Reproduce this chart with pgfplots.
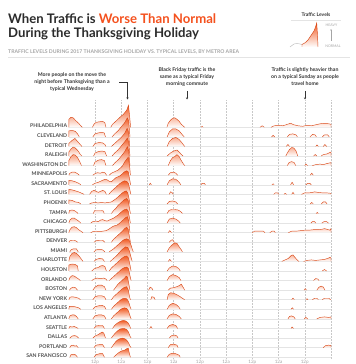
\documentclass[border=0pt]{standalone}
\usepackage{pgfplots}
\pgfplotsset{compat=1.18}
\usetikzlibrary{arrows.meta}
\usepackage{fontspec}
\setmainfont{Lato}
\definecolor{ttl}{HTML}{2B2B2B}
\definecolor{hot}{HTML}{F4511E}
\definecolor{ridgetop}{HTML}{F15A22}
\definecolor{ridgeline}{HTML}{D94A1A}
\definecolor{lbl}{HTML}{505050}
\definecolor{sub}{HTML}{A5A5A5}
\definecolor{basel}{HTML}{E4E4E4}
\definecolor{vgrid}{HTML}{C8C8C8}
\definecolor{ann}{HTML}{333333}
\pgfplotsset{
  ridge/.style={draw=ridgeline, line width=0.45pt, top color=ridgetop, bottom color=white, mark=none, unbounded coords=jump, y filter/.expression={y+#1}},
}
\begin{document}
\begin{tikzpicture}
% ---------- titles ----------
\node[anchor=base west, inner sep=0pt, text=ttl, font=\bfseries\fontsize{13.2}{15}\selectfont] at (8bp,340bp) {When Traffic is \textcolor{hot}{Worse Than Normal}};
\node[anchor=base west, inner sep=0pt, text=ttl, font=\bfseries\fontsize{13.2}{15}\selectfont] at (8bp,326bp) {During the Thanksgiving Holiday};
\node[anchor=base west, inner sep=0pt, text=sub, font=\bfseries\fontsize{5.15}{6}\selectfont] at (8bp,310bp) {TRAFFIC LEVELS DURING 2017 THANKSGIVING HOLIDAY VS. TYPICAL LEVELS, BY METRO AREA};
\draw[basel, line width=1.2bp] (8bp,306.5bp) -- (350bp,306.5bp);
% ---------- legend ----------
\node[inner sep=0pt, text=ann, font=\bfseries\fontsize{5}{6}\selectfont] at (316bp,349bp) {Traffic Levels};
\draw[basel, line width=0.6bp] (291bp,344bp) -- (341bp,344bp);
\node[inner sep=0pt, text=sub, font=\fontsize{3.6}{4}\selectfont] at (331.5bp,339bp) {HEAVY};
\draw[sub, line width=0.4bp, -{Stealth[length=1.6bp,width=1.6bp]}] (331bp,323bp) -- (331bp,335bp);
\node[inner sep=0pt, text=sub, font=\fontsize{3.6}{4}\selectfont] at (333bp,318bp) {NORMAL};
\begin{axis}[at={(289bp,317bp)}, anchor=south west, scale only axis, width=30bp, height=25bp,
  xmin=289, xmax=319, ymin=0, ymax=25, hide axis, clip=false]
\addplot[gray!60, line width=0.4pt, mark=none] coordinates {(290,0)(292,1.5)(294,3)(297,3.5)(300,3)(302,2.5)(303,3)};
\addplot[draw=ridgeline, line width=0.45pt, top color=ridgetop, bottom color=white, mark=none] coordinates {(302,0)(302,2.5)(304,3.5)(306,5)(308,7)(310,10)(312,13)(314,16)(315.5,20)(316.7,24)(317.5,12)(318,0)};
\end{axis}
% ---------- annotations ----------
\node[inner sep=0pt, align=center, text=ann, font=\bfseries\fontsize{5.2}{7}\selectfont] at (72bp,282bp) {More people on the move the\\night before Thanksgiving than a\\typical Wednesday};
\draw[ann, line width=0.4bp, -{Stealth[length=2bp,width=2bp]}] (119bp,282bp) -- (127.5bp,282bp) -- (127.5bp,264.5bp);
\node[inner sep=0pt, align=center, text=ann, font=\bfseries\fontsize{5.2}{7}\selectfont] at (187bp,287bp) {Black Friday traffic is the\\same as a typical Friday\\morning commute};
\draw[ann, line width=0.4bp, -{Stealth[length=2bp,width=2bp]}] (187bp,273bp) -- (187bp,264.5bp);
\node[inner sep=0pt, align=center, text=ann, font=\bfseries\fontsize{5.2}{7}\selectfont] at (305bp,287bp) {Traffic is slightly heavier than\\on a typical Sunday as people\\travel home};
\draw[ann, line width=0.4bp, -{Stealth[length=2bp,width=2bp]}] (305bp,273bp) -- (305bp,264.5bp);
% ---------- main ridgeline axis ----------
\begin{axis}[
  at={(68.8bp,5bp)}, anchor=south west,
  scale only axis, width=262.2bp, height=259bp,
  xmin=0, xmax=120, ymin=5, ymax=264,
  clip=false,
  axis line style={draw=none},
  major tick length=0pt,
  xtick={12,24,36,48,60,72,84,96,108,120},
  xticklabels={12p,12a,12p,12a,12p,12a,12p,12a,12p,},
  xmajorgrids,
  x grid style={vgrid, dash pattern=on 1.5bp off 1.5bp, line width=0.4pt},
  ytick={6.78,16.36,25.94,35.52,45.1,54.68,64.26,73.84,83.42,93,102.58,112.16,121.74,131.32,140.9,150.48,160.06,169.64,179.22,188.8,198.38,207.96,217.54,227.12,236.7},
  yticklabels={SAN FRANCISCO,PORTLAND,DALLAS,SEATTLE,ATLANTA,LOS ANGELES,NEW YORK,BOSTON,ORLANDO,HOUSTON,CHARLOTTE,MIAMI,DENVER,PITTSBURGH,CHICAGO,TAMPA,PHOENIX,ST. LOUIS,SACRAMENTO,MINNEAPOLIS,WASHINGTON DC,RALEIGH,DETROIT,CLEVELAND,PHILADELPHIA},
  ymajorgrids,
  y grid style={basel, line width=0.5pt},
  xticklabel style={font=\fontsize{4.6}{5}\selectfont, text=sub, inner sep=0pt, yshift=-1.2bp},
  yticklabel style={font=\bfseries\fontsize{5.2}{6}\selectfont, text=lbl, inner sep=0pt, xshift=-1.5bp, yshift=1.3bp},
]
% 0 PHILADELPHIA
\addplot[ridge=236.7] coordinates {(0,0)(0,8)(1,10)(2,9.5)(3,7)(4.5,4)(5.5,1.5)(6.2,0)(6.3,nan)
(10.8,0)(11.5,3)(12.5,5)(14,5.5)(15.5,6)(16.5,4.5)(17,0)(17.1,nan)
(19.2,0)(20,3)(21.5,6)(23.4,10)(25,13)(26.5,17)(27.3,22)(27.8,12)(28.3,0)(28.4,nan)
(44.9,0)(45.5,4)(46.5,7)(47.5,9)(48.5,9.5)(49.5,8)(50.5,6)(51.5,3)(52.5,1)(53,0)(53.1,nan)
(60.5,0)(61,1)(61.5,0)(61.6,nan)
(87.5,0)(88.5,1.5)(89.5,0)(89.6,nan)
(92.5,0)(94,1.5)(96,2)(98,1.5)(100,3)(101.5,4)(103,2.5)(105,1.5)(107,1)(109,2)(111,1.5)(113,2.5)(115,3.5)(117,4)(119,3.5)(120,3)(120,0)};
% 1 CLEVELAND
\addplot[ridge=227.12] coordinates {(0,0)(0,6)(1.5,6.5)(3,5.5)(4,3)(4.8,0)(4.9,nan)
(11,0)(12,3)(13.5,4)(15,4.5)(16.2,4)(16.8,0)(16.9,nan)
(19.8,0)(21,3)(22.5,6)(24,10)(25.5,14)(26.8,19)(27.4,16)(28,0)(28.1,nan)
(45,0)(46,5)(47.5,8)(49,8)(50.5,6)(52,2)(52.8,0)(52.9,nan)
(92.8,0)(93.5,1.5)(94.2,0)(94.3,nan)
(100,0)(101,2.5)(102.5,3)(104,2)(104.6,0)(104.7,nan)
(110.4,0)(111.5,2.5)(112.7,2)(113.3,0)(113.4,nan)
(116,0)(117,2)(118.5,2)(119.2,0)};
% 2 DETROIT
\addplot[ridge=217.54] coordinates {(0,0)(0,3)(1.5,6)(2.8,8)(4,5)(5.2,2)(6,0)(6.1,nan)
(11,0)(12,3)(14,4)(15.5,3.5)(16.5,2)(17,0)(17.1,nan)
(19.5,0)(21,3)(22.5,6)(24,9)(25.5,13)(26.7,18)(27.3,15)(27.9,0)(28,nan)
(45,0)(46,5)(47.5,8)(49,9)(50.5,7)(52,3)(53,0)(53.1,nan)
(99.5,0)(100.3,2)(101,0)(101.1,nan)
(113,0)(113.6,1.5)(114.2,0)(114.3,nan)
(116.5,0)(117.2,2)(118,0)};
% 3 RALEIGH
\addplot[ridge=207.96] coordinates {(0,0)(0,4)(1,7)(2,9)(3,8)(4.3,5)(5.3,1.5)(6,0)(6.1,nan)
(11.3,0)(12,3)(13.5,4.5)(15,5)(16.5,4.5)(17.3,0)(17.4,nan)
(19.8,0)(21,3)(22.5,6)(24,10)(25.5,14)(26.8,18)(27.4,14)(28,0)(28.1,nan)
(45,0)(46.5,3)(48,5)(49.5,6)(50.5,4)(51.5,1.5)(52.3,0)(52.4,nan)
(99.3,0)(100,3)(101,6.5)(102,8.5)(103,8)(104,5)(104.8,0)(104.9,nan)
(112,0)(112.8,1.5)(113.5,0)(113.6,nan)
(115.5,0)(116.5,1.5)(118,2)(119,3)(120,4)(120,0)};
% 4 WASHINGTON DC
\addplot[ridge=198.38] coordinates {(0,0)(0,5)(1,9)(2,11)(3,10.5)(4,8)(5,4)(5.8,0)(5.9,nan)
(11.3,0)(12,3.5)(13.5,5.5)(15,6)(16.3,5)(17,0)(17.1,nan)
(20,0)(21.2,3)(22.7,6)(24.2,10)(25.6,14)(26.8,19)(27.4,15)(28,0)(28.1,nan)
(45.5,0)(46.5,5)(47.5,8)(48.5,9)(49.5,11)(50.5,9)(51.5,5)(52.5,1.5)(53,0)(53.1,nan)
(100,0)(100.8,3)(102,4)(103.2,3)(103.8,0)(103.9,nan)
(108,0)(108.6,1.5)(109.2,0)(109.3,nan)
(111.5,0)(113,1)(115,1.5)(116.5,1)(118,2)(119,2.5)(120,3)(120,0)};
% 5 MINNEAPOLIS
\addplot[ridge=188.8] coordinates {(0,0)(0.5,2)(1.5,3)(2.8,3)(4,1.5)(4.8,0)(4.9,nan)
(11,0)(12,1.5)(13,2.5)(14.5,2)(15.5,3)(16.5,2.5)(17.3,0)(17.4,nan)
(18.5,0)(19.5,2)(21,3.5)(22.5,5)(23.5,7)(24.5,9)(25.5,13)(26.5,16)(27.2,18)(27.8,10)(28.2,0)(28.3,nan)
(45.5,0)(46.5,2.5)(48,3)(49,2)(49.8,0)(49.9,nan)
(110.5,0)(111.2,2)(111.9,0)};
% 6 SACRAMENTO
\addplot[ridge=179.22] coordinates {(0,0)(0,4.5)(1.5,4)(3,3)(4.5,1.5)(5.5,0)(5.6,nan)
(10.8,0)(12,1.5)(13.5,2.5)(15,4)(16.5,5.5)(17.5,5)(18.5,3.5)(19.5,3)(20.5,5)(21.5,7)(22.5,8)(23.5,9)(24.5,11)(25.5,13)(26.5,14)(27.2,13)(27.8,6)(28.3,0)(28.4,nan)
(36.8,0)(37.3,1.5)(37.8,0)(37.9,nan)
(45,0)(46,4)(47.5,6)(49,5.5)(50.3,3)(51.3,0)(51.4,nan)
(60.5,0)(61,1.5)(62,1.5)(62.5,0)(62.6,nan)
(93,0)(93.5,1)(94,0)(94.1,nan)
(101.5,0)(102.2,2.5)(102.9,0)(103,nan)
(108.5,0)(109.3,1.5)(110.3,1.5)(111,0)};
% 7 ST. LOUIS
\addplot[ridge=169.64] coordinates {(0,0)(0,5)(1.5,4.5)(3,3.5)(4.5,2.5)(6,1)(7,0)(7.1,nan)
(9.5,0)(10.5,3)(11.5,4)(12.5,3)(13.5,2)(14.5,3)(15.5,4)(16.5,3)(17.2,0)(17.3,nan)
(18.3,0)(19.5,3)(20.5,5)(21.5,7)(22.5,9)(23.5,11)(24.5,12.5)(25.5,13.5)(26.5,13)(27.3,11)(27.9,5)(28.4,0)(28.5,nan)
(46,0)(46.5,2.5)(47.2,2)(47.8,0)(47.9,nan)
(93.8,0)(94.5,1.5)(95.5,1.5)(96.2,0)(96.3,nan)
(98.5,0)(99,1)(99.6,0)(99.7,nan)
(102,0)(102.6,2)(103.2,0)(103.3,nan)
(106.5,0)(108,1.5)(110,1.5)(111.5,2)(112.5,2.5)(114,2)(116,1.5)(118,1.5)(120,1)(120,0)};
% 8 PHOENIX
\addplot[ridge=160.06] coordinates {(0,0)(0,4)(1.5,3.5)(3,2)(4.5,1.5)(5.5,0)(5.6,nan)
(9.5,0)(10.5,1)(12,1.5)(13.5,1)(15,1.5)(16.5,1)(18,1.5)(19.5,2)(20.5,3.5)(21.5,5)(22.5,7)(23.5,9)(24.5,11)(25.5,12.5)(26.3,13)(27,11)(27.6,5)(28,0)(28.1,nan)
(45,0)(46,2.5)(47.5,3)(49,2)(49.8,0)(49.9,nan)
(110.5,0)(111.2,1.5)(111.9,0)(112,nan)
(115.5,0)(116.5,2)(117.5,2)(118.2,0)};
% 9 TAMPA
\addplot[ridge=150.48] coordinates {(0,0)(0.3,3)(1.5,3.5)(2.5,3)(3.5,1.5)(4.2,0)(4.3,nan)
(11.2,0)(11.8,3)(13.5,3)(15,3)(15.8,2.5)(16.2,0)(16.3,nan)
(19.5,0)(20.5,3)(21.5,5)(22.5,8)(23.5,10)(24.5,12)(25.5,14)(26.5,15)(27.2,13)(27.8,5)(28.2,0)(28.3,nan)
(45,0)(45.8,3)(47,4)(48.5,4)(50,3.5)(51.2,2)(52,0)(52.1,nan)
(113.2,0)(113.7,1)(114.2,0)};
% 10 CHICAGO
\addplot[ridge=140.9] coordinates {(0,0)(0.5,3)(1.5,5)(2.5,5)(3.5,3.5)(4.5,2)(5.5,0)(5.6,nan)
(10,0)(11,1.5)(12.5,2)(13.5,1.5)(14.5,3)(15.5,3.5)(16.5,2.5)(17.5,2)(18.5,3)(19.5,4)(20.5,5)(21.5,6.5)(22.5,8)(23.5,10)(24.5,12)(25.5,13.5)(26.5,14)(27.2,12)(27.8,5)(28.2,0)(28.3,nan)
(45,0)(46,4)(47.5,5)(49,4)(50.3,2)(51,0)(51.1,nan)
(110.8,0)(111.5,1.5)(112.5,1.5)(113,0)(113.1,nan)
(115.8,0)(116.8,1.5)(118,1.5)(118.8,0)};
% 11 PITTSBURGH
\addplot[ridge=131.32] coordinates {(0,0)(0.5,3)(1.5,5.5)(2.5,6)(3.5,5)(4.5,3)(5.5,1.5)(6.5,0)(6.6,nan)
(10,0)(11,1)(12.5,1.5)(14,1)(15.5,1.5)(17,2)(18,3)(19,4.5)(20,6)(21,7)(22,7.5)(23,9)(24,11)(25,13)(26,15)(26.8,16)(27.4,12)(28,0)(28.1,nan)
(45.5,0)(46.2,2)(47,0)(47.1,nan)
(84,0)(85,1.5)(87,1.5)(89,1.5)(89.8,0)(89.9,nan)
(92,0)(93,1.5)(94,1.5)(94.5,0)(94.6,nan)
(100.5,0)(102,1.5)(104,1.5)(106,2)(108,2.5)(110,2.5)(112,3)(114,3)(116,3.5)(117,4)(118,3.5)(119.5,2.5)(120,4)(120,0)};
% 12 DENVER
\addplot[ridge=121.74] coordinates {(0,0)(0.5,1.5)(1.5,2)(2.5,2)(3.5,1)(4,0)(4.1,nan)
(11.5,0)(12.5,1.5)(14,2)(15.5,2)(16.5,0)(16.6,nan)
(19.5,0)(20.5,3)(21.5,5)(22.5,7)(23.5,9)(24.5,11)(25.5,13.5)(26.5,15)(27.2,13)(27.8,5)(28.2,0)(28.3,nan)
(46,0)(46.8,2)(47.5,2.5)(48.3,0)};
% 13 MIAMI
\addplot[ridge=112.16] coordinates {(0.5,0)(1,2)(2,3)(3.5,3)(4.3,0)(4.4,nan)
(11.5,0)(12.5,2)(14,2.5)(15.5,2)(16.5,0)(16.6,nan)
(18.5,0)(19.5,1.5)(20.5,3)(21.5,5)(22.5,7)(23.5,9)(24.5,11)(25.5,12.5)(26.5,13)(27.5,12)(28.3,8)(29,3)(29.5,0)(29.6,nan)
(45,0)(46,4)(47.3,7)(48.5,9)(49.5,8.5)(50.5,5)(51.5,2)(52,0)};
% 14 CHARLOTTE
\addplot[ridge=102.58] coordinates {(0,0)(0.5,5)(1.5,8)(2.5,9)(3.5,8)(4.5,6)(5.5,3)(6.5,0)(6.6,nan)
(11.5,0)(12.5,2)(14,3)(15.5,2.5)(16.3,0)(16.4,nan)
(19,0)(20,2)(21,4)(22,6)(23,8.5)(24,11)(25,13)(26,14.5)(27,14)(27.8,10)(28.5,4)(29,0)(29.1,nan)
(45.5,0)(46.2,2)(47,0)(47.1,nan)
(97.5,0)(99,1.5)(100.5,3)(101.8,6)(102.6,6.5)(103.5,4)(104.5,1.5)(105.3,0)(105.4,nan)
(107.5,0)(109,1)(111,1.5)(113,1)(115,1.5)(117,2)(118.5,3)(119.5,4)(120,3.5)(120,0)};
% 15 HOUSTON
\addplot[ridge=93] coordinates {(0,0)(0,6)(1.5,7)(3,6.5)(4,5)(4.3,0)(4.4,nan)
(10.5,0)(11.5,2)(12.5,3)(13.5,3.5)(14.5,5)(15.5,5.5)(16.5,4.5)(17.2,0)(17.3,nan)
(18.5,0)(19.5,3)(20.5,5)(21.5,7)(22.5,9)(23.5,11)(24.5,13)(25.5,14.5)(26.5,15)(27.3,13)(28,6)(28.5,0)(28.6,nan)
(45,0)(46,3)(47.5,5)(49,4.5)(50.3,2.5)(51,0)(51.1,nan)
(116,0)(117,1.5)(118,0)};
% 16 ORLANDO
\addplot[ridge=83.42] coordinates {(0,0)(0.5,3)(1.5,5)(2.5,4.5)(3.5,3)(4.5,1.5)(5.3,0)(5.4,nan)
(10.5,0)(11.5,1.5)(13,2.5)(14.5,2)(16,2.5)(17,1.5)(17.5,0)(17.6,nan)
(18.5,0)(19.5,2)(20.5,4)(21.5,6)(22.5,8)(23.5,10)(24.5,12)(25.5,13)(26.5,13.5)(27.3,12)(28,5)(28.5,0)(28.6,nan)
(45,0)(46,4)(47.5,6)(49,5)(50.5,3)(51.3,0)(51.4,nan)
(112,0)(113,2)(114,1.5)(114.5,0)};
% 17 BOSTON
\addplot[ridge=73.84] coordinates {(0.3,0)(1,2)(2,3)(3,2.5)(4,0)(4.1,nan)
(11,0)(12,3)(13.5,5)(15,5)(16.3,3.5)(17,0)(17.1,nan)
(20.5,0)(21.5,3)(22.5,6)(23.5,8)(24.5,10)(25.5,12)(26.3,14)(26.9,13)(27.5,6)(28,0)(28.1,nan)
(36.5,0)(37.2,3)(38,2)(38.5,0)(38.6,nan)
(45.5,0)(46.5,2)(48,2.5)(49.5,3.5)(50.5,4.5)(51.5,6)(52.3,3)(53,0)(53.1,nan)
(107.7,0)(108.2,1.5)(108.8,0)(108.9,nan)
(113.5,0)(114.5,3)(115.5,4)(116.5,3)(117.2,0)};
% 18 NEW YORK
\addplot[ridge=64.26] coordinates {(0,0)(0.5,2.5)(1.5,3)(3,2.5)(4.5,1.5)(5.3,0)(5.4,nan)
(11,0)(12,3)(13.5,4)(15,4)(16.3,3)(17,0)(17.1,nan)
(19.5,0)(20.5,3)(21.5,5)(22.5,7)(23.5,9)(24.5,11)(25.5,12.5)(26.5,13)(27.2,10)(27.8,3)(28.2,0)(28.3,nan)
(37.5,0)(38,3)(39,2.5)(39.5,0)(39.6,nan)
(45,0)(45.5,5)(46.5,7)(48,6.5)(49.5,5)(51,3)(52.3,1)(53,0)(53.1,nan)
(102,0)(102.6,1.5)(103.2,0)(103.3,nan)
(108.5,0)(109,1)(109.5,0)(109.6,nan)
(111.5,0)(112.5,1.5)(113.5,1.5)(114.2,0)(114.3,nan)
(116,0)(117,1.5)(119,1.5)(119.8,0)};
% 19 LOS ANGELES
\addplot[ridge=54.68] coordinates {(0,0)(0.3,3)(1.5,3)(3,2.5)(4.5,1.5)(5.5,0)(5.6,nan)
(11,0)(12,2.5)(13.5,3.5)(15,4)(16.3,3)(17,0)(17.1,nan)
(19.5,0)(20.5,3)(21.5,5)(22.5,7)(23.5,9)(24.5,10.5)(25.5,11)(26.5,10.5)(27.3,8)(28,3)(28.5,0)(28.6,nan)
(45,0)(46,4)(47.5,6)(49,5)(50.3,2.5)(51,0)(51.1,nan)
(101.7,0)(102.3,1.5)(102.9,0)};
% 20 ATLANTA
\addplot[ridge=45.1] coordinates {(0,0)(0.5,3)(1.5,4)(2.5,4)(3.5,2.5)(4.3,0)(4.4,nan)
(11,0)(12,3)(13.5,4)(15,4)(16.3,3)(17,0)(17.1,nan)
(19.5,0)(20.5,3)(21.5,5)(22.5,7)(23.5,9)(24.5,10.5)(25.5,11)(26.5,10.5)(27.3,8)(28,3)(28.5,0)(28.6,nan)
(45,0)(46,3.5)(47.5,5)(49,4.5)(50.5,2.5)(51.5,0)(51.6,nan)
(100.3,0)(101,2.5)(102,3)(103,2)(103.6,0)(103.7,nan)
(107.8,0)(108.5,1.5)(109.3,0)(109.4,nan)
(113.5,0)(115,1.5)(117,2)(119,1.5)(120,2)(120,0)};
% 21 SEATTLE
\addplot[ridge=35.52] coordinates {(0,0)(0.5,2)(1.5,1.5)(2.5,2)(3.5,1)(4.3,0)(4.4,nan)
(11.5,0)(12.5,2.5)(14,3)(15.5,3)(16.3,0)(16.4,nan)
(20,0)(21,3)(22,5)(23,6.5)(24,7.5)(25,8)(26,7.5)(27,6)(27.8,3)(28.3,0)(28.4,nan)
(37,0)(37.6,2)(38.2,0)(38.3,nan)
(45,0)(46,3)(47.5,4)(49,3)(49.8,0)(49.9,nan)
(101.7,0)(102.2,1.5)(102.8,0)};
% 22 DALLAS
\addplot[ridge=25.94] coordinates {(0.5,0)(1.5,2)(2.5,2.5)(3.5,2)(4.5,0)(4.6,nan)
(11,0)(12,2)(13.5,3.5)(14.5,5)(15.3,6)(16,5)(16.8,0)(16.9,nan)
(19.5,0)(20.5,3)(21.5,5.5)(22.5,7.5)(23.5,9)(24.5,9.5)(25.5,9.5)(26.5,8.5)(27.3,6)(28,2)(28.5,0)(28.6,nan)
(46,0)(47,2.5)(48.5,3)(49.5,2)(50,0)};
% 23 PORTLAND
\addplot[ridge=16.36] coordinates {(0.5,0)(1,2)(2,2.5)(2.8,1.5)(3.5,2)(4.3,0)(4.4,nan)
(11.5,0)(12.5,2.5)(14,3)(15.5,3)(16.3,0)(16.4,nan)
(19.5,0)(20.5,3)(21.5,6)(22.5,8)(23.5,9)(24.5,9.5)(25.5,9)(26.5,7.5)(27.3,5)(28,1.5)(28.5,0)(28.6,nan)
(45.5,0)(46.5,3)(48,3.5)(49.5,2.5)(50,0)(50.1,nan)
(116.5,0)(117.5,2)(119,2.5)(120,2)(120,0)};
% 24 SAN FRANCISCO
\addplot[ridge=6.78] coordinates {(0.5,0)(1,2.5)(2,3)(3,2.5)(4,0)(4.1,nan)
(11.5,0)(12.5,2.5)(14,3.5)(15.5,3.5)(16.3,0)(16.4,nan)
(20.5,0)(21.5,2)(22.5,4)(23.5,5.5)(24.5,6.5)(25.5,7)(26.5,8.5)(27.2,9)(27.8,3)(28.2,0)(28.3,nan)
(45,0)(46,3)(47.5,4)(49,3.5)(50.5,2)(51,0)};
\end{axis}
\pgfresetboundingbox
\useasboundingbox (0bp,0bp) rectangle (356bp,364bp);
\end{tikzpicture}
\end{document}
